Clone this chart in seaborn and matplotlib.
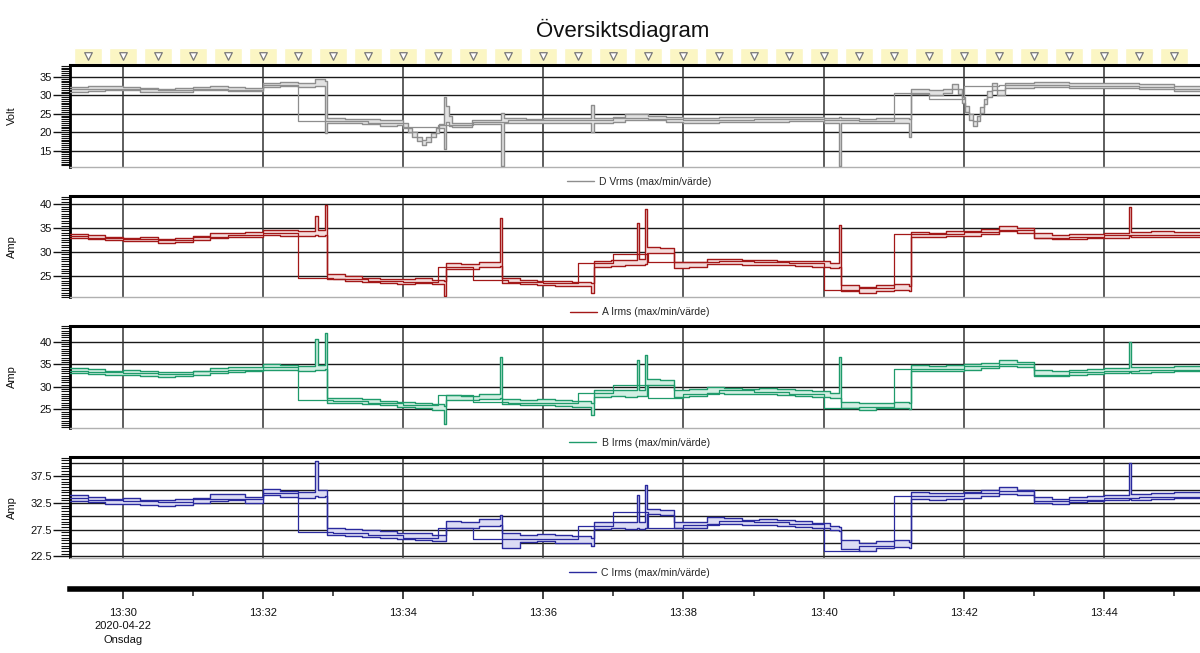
import pandas as pd
import seaborn as sns
import matplotlib
matplotlib.use("Agg")
import matplotlib.pyplot as plt
from matplotlib.ticker import MultipleLocator, FormatStrFormatter
from matplotlib.lines import Line2D

sns.set_style("ticks")
plt.rcParams["font.family"] = ["Liberation Sans", "DejaVu Sans"]

DAY = "2020-04-22 "

# --- D Vrms band (max/min), breakpoints ---
t_volt = ["13:29:15", "13:29:30", "13:29:45", "13:30:00", "13:30:15", "13:30:30", "13:30:45",
          "13:31:00", "13:31:15", "13:31:30", "13:31:45", "13:32:00", "13:32:15", "13:32:30",
          "13:32:45", "13:32:53", "13:32:55", "13:33:10", "13:33:25", "13:33:40", "13:33:55",
          "13:34:00", "13:34:04", "13:34:08", "13:34:12", "13:34:16", "13:34:20", "13:34:24",
          "13:34:28", "13:34:31", "13:34:35", "13:34:37", "13:34:39", "13:34:42", "13:34:59",
          "13:35:24", "13:35:26", "13:35:45", "13:36:00", "13:36:20", "13:36:41", "13:36:43",
          "13:37:00", "13:37:10", "13:37:30", "13:37:45", "13:38:00", "13:38:30", "13:39:00",
          "13:39:30", "13:40:00", "13:40:13", "13:40:15", "13:40:30", "13:40:45", "13:41:00",
          "13:41:13", "13:41:15", "13:41:30", "13:41:42", "13:41:50", "13:41:55", "13:41:58",
          "13:42:01", "13:42:04", "13:42:08", "13:42:11", "13:42:14", "13:42:17", "13:42:20",
          "13:42:24", "13:42:28", "13:42:35", "13:43:00", "13:43:30", "13:44:00", "13:44:30",
          "13:45:00", "13:45:25"]
v_max = [32.2, 32.4, 32.6, 32.3, 32.0, 31.8, 32.1, 32.3, 32.4, 32.2, 32.0, 33.2, 33.5, 33.4,
         34.3, 33.8, 23.8, 23.7, 23.5, 23.2, 23.3, 22.4, 21.2, 20.0, 18.8, 17.8, 18.6, 19.8,
         21.0, 22.2, 29.4, 27.0, 24.5, 22.6, 23.3, 25.3, 23.8, 23.7, 23.8, 23.9, 27.3, 23.8,
         24.0, 24.8, 24.5, 24.0, 23.8, 24.0, 24.1, 24.2, 23.9, 24.0, 23.8, 23.7, 23.9, 23.8,
         23.6, 31.6, 31.4, 31.8, 33.0, 31.8, 29.5, 27.0, 24.8, 23.0, 24.5, 26.8, 29.0, 31.2,
         33.2, 31.5, 33.4, 33.5, 33.2, 33.3, 33.0, 32.5, 32.3]
v_min = [31.0, 31.2, 31.5, 31.3, 31.0, 30.8, 31.0, 31.3, 31.4, 31.2, 31.1, 32.2, 32.4, 32.3,
         32.5, 19.8, 22.5, 22.5, 22.2, 21.8, 22.0, 21.2, 20.0, 18.8, 17.6, 16.5, 17.4, 18.6,
         19.8, 21.0, 15.4, 22.8, 21.8, 21.4, 22.2, 10.8, 22.6, 22.5, 22.6, 22.6, 20.1, 22.6,
         22.8, 23.4, 23.3, 22.8, 22.5, 22.7, 22.8, 22.9, 22.6, 10.8, 22.6, 22.4, 22.6, 22.5,
         18.8, 30.4, 30.2, 30.6, 31.6, 30.4, 28.0, 25.5, 23.4, 21.6, 23.0, 25.2, 27.5, 29.6,
         31.5, 30.2, 32.0, 32.2, 31.9, 32.0, 31.6, 31.2, 31.0]

# --- current bands (A, B, C share the same breakpoints) ---
t_cur = ["13:29:15", "13:29:30", "13:29:45", "13:30:00", "13:30:15", "13:30:30", "13:30:45",
         "13:31:00", "13:31:15", "13:31:30", "13:31:45", "13:32:00", "13:32:15", "13:32:30",
         "13:32:45", "13:32:47", "13:32:53", "13:32:55", "13:33:10", "13:33:25", "13:33:40",
         "13:33:55", "13:34:10", "13:34:25", "13:34:35", "13:34:37", "13:34:50", "13:35:05",
         "13:35:23", "13:35:25", "13:35:40", "13:35:55", "13:36:10", "13:36:25", "13:36:41",
         "13:36:43", "13:36:58", "13:37:10", "13:37:20", "13:37:22", "13:37:27", "13:37:29",
         "13:37:40", "13:37:52", "13:38:05", "13:38:20", "13:38:35", "13:38:50", "13:39:05",
         "13:39:20", "13:39:35", "13:39:50", "13:40:05", "13:40:13", "13:40:15", "13:40:30",
         "13:40:45", "13:41:00", "13:41:13", "13:41:15", "13:41:30", "13:41:45", "13:42:00",
         "13:42:15", "13:42:30", "13:42:45", "13:43:00", "13:43:15", "13:43:30", "13:43:45",
         "13:44:00", "13:44:21", "13:44:23", "13:44:40", "13:45:00", "13:45:25"]
a_max = [33.8, 33.6, 33.2, 33.0, 33.1, 32.8, 32.9, 33.4, 34.0, 34.0, 34.1, 34.6, 34.5, 34.3,
         37.6, 34.6, 39.8, 25.4, 25.0, 24.6, 24.4, 24.3, 24.6, 24.2, 24.0, 27.6, 27.4, 27.8,
         37.0, 24.5, 24.2, 24.0, 23.9, 23.8, 23.4, 28.2, 28.3, 28.4, 36.0, 28.5, 39.0, 31.0,
         30.8, 27.8, 27.9, 28.6, 28.5, 28.3, 28.4, 28.2, 28.1, 28.0, 27.6, 35.6, 23.0, 22.7,
         23.0, 23.2, 22.8, 34.2, 34.0, 34.3, 34.4, 34.8, 35.4, 35.0, 34.0, 33.5, 33.7, 33.8,
         34.0, 39.5, 34.1, 34.3, 34.2, 34.0]
a_min = [32.9, 32.7, 32.4, 32.2, 32.3, 31.9, 32.0, 32.5, 33.0, 33.1, 33.2, 33.5, 33.4, 33.3,
         33.6, 33.4, 33.5, 24.3, 23.9, 23.6, 23.5, 23.3, 23.5, 23.2, 20.8, 26.5, 26.4, 26.8,
         27.0, 23.4, 23.2, 23.0, 22.9, 22.8, 21.5, 26.9, 27.1, 27.2, 27.3, 27.2, 27.4, 29.8,
         29.7, 26.6, 26.8, 27.5, 27.4, 27.3, 27.3, 27.2, 27.0, 26.9, 26.6, 26.8, 21.8, 21.5,
         21.9, 22.1, 21.9, 33.2, 33.1, 33.3, 33.4, 33.8, 34.3, 34.0, 33.0, 32.6, 32.8, 32.9,
         33.0, 33.3, 33.1, 33.2, 33.2, 33.0]
b_max = [34.1, 33.9, 33.6, 33.7, 33.4, 33.2, 33.3, 33.6, 34.2, 34.3, 34.5, 35.0, 34.8, 34.6,
         40.6, 34.9, 42.0, 27.6, 27.4, 27.2, 26.9, 26.6, 26.4, 26.2, 25.8, 28.2, 28.0, 28.4,
         36.6, 27.3, 27.0, 27.2, 27.0, 26.8, 26.4, 29.2, 29.3, 29.2, 36.0, 29.3, 37.0, 31.7,
         31.5, 29.3, 29.4, 30.0, 29.8, 29.6, 29.7, 29.4, 29.2, 29.0, 28.6, 36.6, 26.6, 26.3,
         26.5, 26.6, 26.3, 34.9, 34.6, 34.8, 35.0, 35.3, 36.0, 35.5, 33.8, 33.5, 33.8, 34.0,
         34.2, 40.0, 34.3, 34.5, 34.6, 34.4]
b_min = [33.0, 32.9, 32.6, 32.6, 32.4, 32.2, 32.3, 32.6, 33.0, 33.2, 33.4, 33.8, 33.7, 33.6,
         33.8, 33.7, 33.9, 26.4, 26.3, 26.1, 25.9, 25.6, 25.3, 24.9, 21.7, 27.0, 27.0, 27.2,
         27.4, 26.1, 25.9, 26.0, 25.8, 25.6, 23.7, 27.8, 28.0, 27.8, 27.9, 27.9, 28.0, 30.4,
         30.3, 27.8, 27.9, 28.6, 28.5, 28.4, 28.5, 28.2, 28.0, 27.8, 27.4, 27.5, 25.2, 24.9,
         25.2, 25.3, 25.0, 33.6, 33.4, 33.6, 33.8, 34.2, 34.6, 34.3, 32.4, 32.3, 32.6, 32.8,
         33.0, 33.2, 33.1, 33.3, 33.4, 33.2]
c_max = [33.9, 33.6, 33.3, 33.4, 33.1, 33.0, 33.2, 33.5, 34.2, 34.1, 33.6, 35.2, 34.8, 34.6,
         40.3, 34.9, 35.0, 27.9, 27.6, 27.4, 27.2, 26.9, 26.8, 26.6, 26.5, 29.2, 29.0, 29.5,
         30.2, 26.8, 26.6, 26.7, 26.5, 26.4, 26.0, 28.9, 29.0, 28.9, 33.9, 29.0, 35.9, 31.4,
         31.2, 28.9, 29.0, 29.8, 29.6, 29.4, 29.5, 29.3, 29.1, 28.8, 28.2, 28.0, 25.6, 25.0,
         25.3, 25.5, 25.2, 34.5, 34.3, 34.4, 34.6, 35.0, 35.4, 35.0, 33.6, 33.3, 33.6, 33.8,
         34.0, 40.0, 34.2, 34.4, 34.5, 34.3]
c_min = [32.8, 32.6, 32.3, 32.3, 32.1, 32.0, 32.1, 32.5, 32.9, 33.0, 32.5, 33.9, 33.7, 33.5,
         33.8, 33.7, 33.8, 26.5, 26.4, 26.2, 26.0, 25.8, 25.6, 25.4, 25.3, 27.9, 27.8, 28.1,
         28.3, 24.0, 25.2, 25.3, 25.1, 25.0, 24.5, 27.6, 27.8, 27.7, 27.8, 27.7, 27.9, 30.4,
         30.2, 27.8, 27.9, 28.6, 28.5, 28.4, 28.4, 28.2, 28.0, 27.8, 27.4, 27.3, 23.9, 23.6,
         24.0, 24.2, 24.0, 33.2, 33.1, 33.2, 33.4, 33.8, 34.2, 33.9, 32.5, 32.3, 32.6, 32.8,
         33.0, 33.3, 33.1, 33.3, 33.4, 33.2]

# --- "värde": one value per 30 s interval, 13:29:00 .. 13:45:30 ---
t_half = pd.date_range(DAY + "13:29:00", DAY + "13:45:30", freq="30s")
v_val = [31.6, 31.8, 31.6, 31.3, 31.8, 31.5, 32.8, 23.1, 23.0, 22.6, 21.5, 22.0, 22.8, 23.2,
         23.2, 23.3, 23.8, 23.6, 23.2, 23.4, 23.5, 23.5, 23.2, 23.1, 30.5, 29.1, 32.5, 32.8,
         32.8, 32.6, 32.6, 32.2, 31.8, 31.6]
a_val = [33.3, 33.0, 32.7, 32.5, 33.2, 33.6, 34.0, 24.6, 24.4, 24.0, 23.8, 26.8, 24.2, 23.6,
         23.4, 27.6, 29.6, 27.9, 27.8, 28.0, 27.8, 27.6, 22.0, 22.4, 33.8, 33.7, 34.2, 34.6,
         33.0, 33.2, 33.5, 33.6, 33.6, 33.5]
b_val = [33.6, 33.3, 33.0, 32.8, 33.4, 33.8, 34.3, 27.0, 26.8, 26.4, 25.9, 28.1, 26.6, 26.5,
         26.3, 28.6, 30.4, 27.6, 28.5, 29.2, 28.9, 28.5, 25.2, 25.6, 34.0, 34.0, 34.6, 35.0,
         32.6, 33.2, 33.6, 33.8, 33.8, 33.7]
c_val = [33.4, 33.0, 32.8, 32.6, 33.3, 33.2, 34.4, 27.0, 26.8, 26.5, 26.0, 27.8, 25.8, 25.8,
         25.7, 28.2, 30.8, 27.9, 28.4, 29.1, 28.9, 28.6, 23.6, 24.5, 33.8, 33.8, 34.4, 34.8,
         32.9, 33.1, 33.4, 33.6, 33.7, 33.6]

XLIM = (pd.Timestamp(DAY + "13:29:15"), pd.Timestamp(DAY + "13:45:22"))
FIG_W, FIG_H = 1200, 653


def box(left, top, right, bottom):
    return [left / FIG_W, 1 - bottom / FIG_H, (right - left) / FIG_W, (bottom - top) / FIG_H]


def ts(lst):
    return pd.to_datetime([DAY + s for s in lst])


panels = [
    dict(ylab="Volt", leg="D Vrms (max/min/värde)", t=t_volt, hi=v_max, lo=v_min, val=v_val,
         line="#8e8e8e", fill="#e2e2e2", pos=(65, 166.5), ylim=(10.7, 38.2),
         ticks=[15, 20, 25, 30, 35], grid=[15, 20, 25, 30, 35], fmt="%g"),
    dict(ylab="Amp", leg="A Irms (max/min/värde)", t=t_cur, hi=a_max, lo=a_min, val=a_val,
         line="#a31818", fill="#f4dcdc", pos=(196, 297.3), ylim=(20.5, 41.7),
         ticks=[25, 30, 35, 40], grid=[25, 30, 35, 40], fmt="%g"),
    dict(ylab="Amp", leg="B Irms (max/min/värde)", t=t_cur, hi=b_max, lo=b_min, val=b_val,
         line="#1f9b6b", fill="#d3efe3", pos=(326, 427.7), ylim=(20.9, 43.5),
         ticks=[25, 30, 35, 40], grid=[25, 30, 35, 40], fmt="%g"),
    dict(ylab="Amp", leg="C Irms (max/min/värde)", t=t_cur, hi=c_max, lo=c_min, val=c_val,
         line="#2a2a9e", fill="#dcdcf4", pos=(457, 557.5), ylim=(22.3, 41.1),
         ticks=[22.5, 27.5, 32.5, 37.5], grid=[22.5, 25, 27.5, 30, 32.5, 35, 37.5, 40],
         fmt="%.1f"),
]

fig = plt.figure(figsize=(12, 6.53), dpi=100)
fig.text(623 / FIG_W, 1 - 30 / FIG_H, "Översiktsdiagram", ha="center", va="center",
         fontsize=16, color="#111111")

# marker strip on top
ax_m = fig.add_axes(box(70, 48, 1200, 64))
mark_t = pd.date_range(DAY + "13:29:30", DAY + "13:45:00", freq="30s")
ax_m.bar(mark_t, 1, width=24 / 86400, color="#fbf6c4", align="center")
ax_m.scatter(mark_t, [0.5] * len(mark_t), marker="v", s=30, facecolors="white",
             edgecolors="#7a7a7a", linewidths=0.9, zorder=3)
ax_m.set_xlim(XLIM)
ax_m.set_ylim(0, 1)
ax_m.axis("off")

major_t = pd.date_range(DAY + "13:30", DAY + "13:44", freq="2min")
minor_t = pd.date_range(DAY + "13:31", DAY + "13:45", freq="2min")

for p in panels:
    top, bottom = p["pos"]
    ax = fig.add_axes(box(70, top, 1200, bottom))
    band = pd.DataFrame({"tid": ts(p["t"]), "max": p["hi"], "min": p["lo"]})
    ax.fill_between(band["tid"], band["min"], band["max"], step="post",
                    color=p["fill"], lw=0, zorder=2)
    for col in ("max", "min"):
        sns.lineplot(data=band, x="tid", y=col, ax=ax, color=p["line"], lw=1.0,
                     drawstyle="steps-post", estimator=None, sort=False, legend=False,
                     zorder=3)
    thin = pd.DataFrame({"tid": t_half, "val": p["val"]})
    sns.lineplot(data=thin, x="tid", y="val", ax=ax, color=p["line"], lw=0.9,
                 drawstyle="steps-post", estimator=None, sort=False, legend=False, zorder=4)

    for g in p["grid"]:
        ax.axhline(g, color="#1a1a1a", lw=1.0, zorder=1)
    for m in major_t:
        ax.axvline(m, color="#333333", lw=1.1, zorder=1)

    ax.set_xlim(XLIM)
    ax.set_ylim(p["ylim"])
    ax.set_xticks([])
    ax.set_xlabel("")
    ax.set_yticks(p["ticks"])
    ax.yaxis.set_major_formatter(FormatStrFormatter(p["fmt"]))
    ax.yaxis.set_minor_locator(MultipleLocator(0.5))
    ax.tick_params(axis="y", which="major", length=12, width=1, labelsize=8, pad=1,
                   color="#111111", labelcolor="#111111")
    ax.tick_params(axis="y", which="minor", length=6.5, width=0.8, color="#111111")
    ax.set_ylabel(p["ylab"], fontsize=8, color="#111111")
    ax.yaxis.set_label_coords(-0.047, 0.5)

    ax.spines["right"].set_visible(False)
    ax.spines["left"].set_linewidth(2)
    ax.spines["left"].set_color("#000000")
    ax.spines["top"].set_linewidth(2.2)
    ax.spines["top"].set_color("#000000")
    ax.spines["bottom"].set_linewidth(1)
    ax.spines["bottom"].set_color("#b0b0b0")

    handle = Line2D([0], [0], color=p["line"], lw=1.0)
    ax.legend(handles=[handle], labels=[p["leg"]], loc="center",
              bbox_to_anchor=(0.504, -0.15), frameon=False, fontsize=7.5,
              handlelength=2.6, handletextpad=0.5, borderpad=0)

# time axis at the bottom
ax_t = fig.add_axes(box(70, 588, 1200, 589))
ax_t.set_xlim(XLIM)
ax_t.set_yticks([])
for side in ("left", "right", "top"):
    ax_t.spines[side].set_visible(False)
ax_t.spines["bottom"].set_linewidth(4)
ax_t.spines["bottom"].set_color("#000000")
labels = [m.strftime("%H:%M") for m in major_t]
labels[0] = labels[0] + "\n2020-04-22\nOnsdag"
ax_t.set_xticks(major_t, labels)
ax_t.set_xticks(minor_t, minor=True)
ax_t.tick_params(axis="x", which="major", length=7.5, width=1.3, labelsize=8, pad=6,
                 color="#333333", labelcolor="#111111")
ax_t.tick_params(axis="x", which="minor", length=5, width=1.2, color="#333333")
for lbl in ax_t.get_xticklabels():
    lbl.set_linespacing(1.45)
    lbl.set_verticalalignment("top")

fig.savefig("out.png", dpi=100, facecolor="white")
